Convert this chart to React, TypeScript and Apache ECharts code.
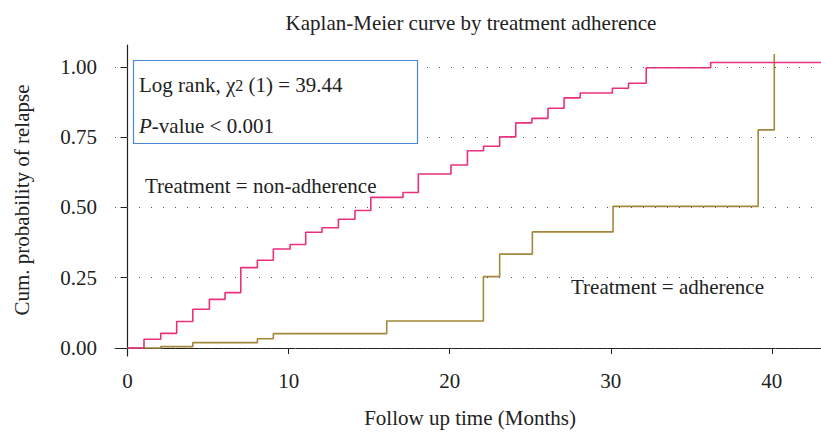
import React, { useEffect, useRef } from "react";
import * as echarts from "echarts";

const titleText = "Kaplan-Meier curve by treatment adherence";
const xAxisTitle = "Follow up time (Months)";
const yAxisTitle = "Cum. probability of relapse";

const xTicks = [0, 10, 20, 30, 40];
const yTicks = [0, 0.25, 0.5, 0.75, 1.0];

// Treatment = non-adherence (pink)
const nonAdhMonths = [0, 1.02, 2.06, 3.05, 4.05, 5.08, 6.05, 7.03, 8.06, 9.05, 10.09, 11.06, 12.07, 13.09, 14.12, 15.1, 17.1, 18.05, 20.08, 21.1, 22.1, 23.1, 24.1, 25.1, 26.1, 27.1, 28.1, 30.1, 31.1, 32.2, 36.2, 43.05];
const nonAdhProb = [0, 0.031, 0.052, 0.094, 0.138, 0.173, 0.197, 0.286, 0.312, 0.352, 0.368, 0.412, 0.428, 0.458, 0.489, 0.536, 0.553, 0.619, 0.651, 0.702, 0.718, 0.751, 0.801, 0.817, 0.853, 0.89, 0.907, 0.924, 0.942, 0.997, 1.016, 1.016];

// Treatment = adherence (olive)
const adhMonths = [0, 2.06, 4.05, 8.06, 9.05, 16.09, 22.09, 23.1, 25.13, 30.14, 39.15, 40.15];
const adhProb = [0, 0.005, 0.019, 0.033, 0.051, 0.096, 0.254, 0.334, 0.413, 0.504, 0.776, 1.046];

const SERIF = "'Liberation Serif', 'DejaVu Serif', serif";
const FS = 21;

export default function App() {
  const ref = useRef<HTMLDivElement>(null);
  useEffect(() => {
    if (!ref.current) return;
    const chart = echarts.init(ref.current, undefined, { renderer: "svg" });
    const nonAdh = nonAdhMonths.map((m, i) => [m, nonAdhProb[i]]);
    const adh = adhMonths.map((m, i) => [m, adhProb[i]]);
    chart.setOption({
      animation: false,
      backgroundColor: "#ffffff",
      textStyle: { fontFamily: SERIF },
      grid: { left: 115, right: 0, top: 45, bottom: 76, containLabel: false },
      xAxis: {
        type: "value",
        min: -0.78,
        max: 43.05,
        axisLine: { show: true, lineStyle: { color: "#222", width: 1.2 } },
        axisTick: { show: true, length: 6, lineStyle: { color: "#222" }, customValues: xTicks },
        axisLabel: { customValues: xTicks, margin: 14, fontSize: FS, color: "#222", fontFamily: SERIF },
        splitLine: { show: false },
      },
      yAxis: {
        type: "value",
        min: -0.0285,
        max: 1.078,
        axisLine: { show: true, lineStyle: { color: "#222", width: 1.2 } },
        axisTick: { show: true, length: 7, lineStyle: { color: "#222" }, customValues: yTicks },
        axisLabel: {
          customValues: yTicks,
          margin: 18,
          fontSize: FS,
          color: "#222",
          fontFamily: SERIF,
          formatter: (v: number) => v.toFixed(2),
        },
        splitLine: { show: false },
      },
      series: [
        {
          type: "line",
          data: [],
          z: 1,
          silent: true,
          markLine: {
            silent: true,
            symbol: "none",
            label: { show: false },
            lineStyle: { type: [1, 11], color: "#555", width: 1.2 },
            data: yTicks.map((v) => ({ yAxis: v })),
          },
        },
        {
          type: "line",
          name: "non-adherence",
          step: "end",
          data: nonAdh,
          showSymbol: false,
          symbol: "none",
          z: 3,
          lineStyle: { color: "#e8307f", width: 1.6 },
        },
        {
          type: "line",
          name: "adherence",
          step: "end",
          data: adh,
          showSymbol: false,
          symbol: "none",
          z: 2,
          lineStyle: { color: "#a3873a", width: 1.6 },
        },
      ],
      graphic: [
        {
          type: "text",
          x: 471,
          y: 23,
          style: { text: titleText, fontSize: FS, fontFamily: SERIF, fill: "#222", align: "center", verticalAlign: "middle" },
        },
        {
          type: "text",
          x: 470,
          y: 418,
          style: { text: xAxisTitle, fontSize: FS, fontFamily: SERIF, fill: "#222", align: "center", verticalAlign: "middle" },
        },
        {
          type: "text",
          x: 22,
          y: 200,
          rotation: Math.PI / 2,
          style: { text: yAxisTitle, fontSize: FS, fontFamily: SERIF, fill: "#222", align: "center", verticalAlign: "middle" },
        },
        {
          type: "rect",
          shape: { x: 133.5, y: 60.5, width: 284, height: 83 },
          style: { fill: "#ffffff", stroke: "#4a86d6", lineWidth: 1.2 },
          z: 10,
        },
        {
          type: "text",
          x: 139,
          y: 85,
          z: 11,
          style: {
            text: "{n|Log rank, χ}{s|2}{n| (1) = 39.44}",
            rich: {
              n: { fontSize: FS, fontFamily: SERIF, fill: "#222" },
              s: { fontSize: 16, fontFamily: SERIF, fill: "#222" },
            },
            verticalAlign: "middle",
          },
        },
        {
          type: "text",
          x: 139,
          y: 126,
          z: 11,
          style: {
            text: "{i|P}{n|-value < 0.001}",
            rich: {
              n: { fontSize: FS, fontFamily: SERIF, fill: "#222" },
              i: { fontSize: FS, fontFamily: SERIF, fill: "#222", fontStyle: "italic" },
            },
            verticalAlign: "middle",
          },
        },
        {
          type: "text",
          x: 145,
          y: 186,
          z: 11,
          style: { text: "Treatment = non-adherence", fontSize: FS, fontFamily: SERIF, fill: "#222", verticalAlign: "middle" },
        },
        {
          type: "text",
          x: 571,
          y: 287,
          z: 11,
          style: { text: "Treatment = adherence", fontSize: FS, fontFamily: SERIF, fill: "#222", verticalAlign: "middle" },
        },
      ],
    });
    return () => chart.dispose();
  }, []);
  return <div ref={ref} style={{ position: "fixed", left: 0, top: 0, width: 821, height: 432 }} />;
}
